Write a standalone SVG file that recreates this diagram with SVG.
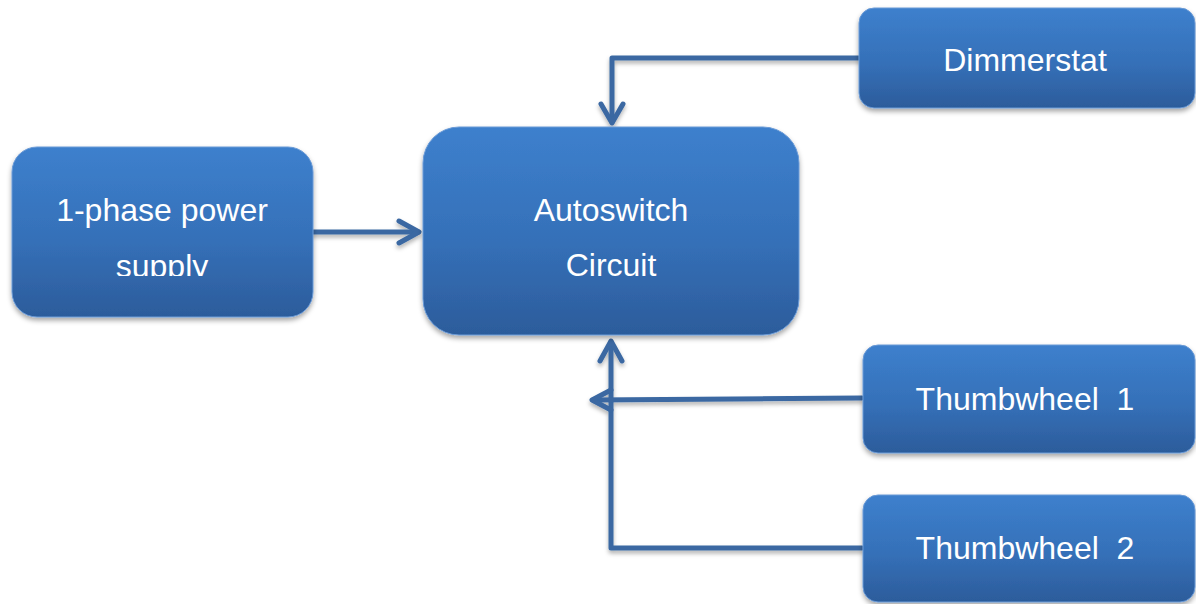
<svg xmlns="http://www.w3.org/2000/svg" width="1196" height="604" viewBox="0 0 1196 604">
  <defs>
    <linearGradient id="boxGrad" x1="0" y1="0" x2="0" y2="1">
      <stop offset="0" stop-color="#3d80cd"/>
      <stop offset="0.55" stop-color="#3570b8"/>
      <stop offset="1" stop-color="#2c5c9b"/>
    </linearGradient>
    <filter id="shadow" x="-10%" y="-10%" width="125%" height="130%">
      <feDropShadow dx="0" dy="3" stdDeviation="2.5" flood-color="#000" flood-opacity="0.35"/>
    </filter>
    <filter id="lineShadow" x="-5%" y="-20%" width="110%" height="140%">
      <feDropShadow dx="0" dy="3" stdDeviation="2" flood-color="#000" flood-opacity="0.3"/>
    </filter>
    <clipPath id="clipPower">
      <rect x="12" y="147" width="301" height="129"/>
    </clipPath>
  </defs>
  <style>
    .box { fill: url(#boxGrad); stroke: #6a9ad6; stroke-width: 1; filter: url(#shadow); }
    .label { fill: #ffffff; font-family: "Liberation Sans", Arial, sans-serif; font-size: 32px; text-anchor: middle; }
    .conn { fill: none; stroke: #3a68a2; stroke-width: 5; stroke-linecap: round; stroke-linejoin: round; }
  </style>

  <g id="connectors" filter="url(#lineShadow)">
    <!-- power supply to autoswitch -->
    <path class="conn" d="M313 232 L418 232"/>
    <path class="conn" d="M399 221 L419 232 L399 243"/>
    <!-- dimmerstat to autoswitch -->
    <path class="conn" d="M859 58 L612 58 L612 122"/>
    <path class="conn" d="M601 104 L612 123 L623 104"/>
    <!-- thumbwheel 2 up to autoswitch -->
    <path class="conn" d="M862 548 L611 548 L611 342"/>
    <path class="conn" d="M600 361 L611 341 L622 361"/>
    <!-- thumbwheel 1 to vertical -->
    <path class="conn" d="M862 398 L593 400"/>
    <path class="conn" d="M611 390 L592 400 L611 410"/>
  </g>

  <g id="node-power">
    <rect class="box" x="12" y="147" width="301" height="170" rx="25" ry="25"/>
    <text class="label" x="162" y="221">1-phase power</text>
    <text class="label" x="162" y="277" clip-path="url(#clipPower)">supply</text>
  </g>

  <g id="node-autoswitch">
    <rect class="box" x="423" y="127" width="376" height="208" rx="36" ry="36"/>
    <text class="label" x="611" y="221">Autoswitch</text>
    <text class="label" x="611" y="276">Circuit</text>
  </g>

  <g id="node-dimmerstat">
    <rect class="box" x="859" y="8" width="336" height="100" rx="15" ry="15"/>
    <text class="label" x="1025" y="71">Dimmerstat</text>
  </g>

  <g id="node-thumbwheel1">
    <rect class="box" x="863" y="345" width="332" height="108" rx="15" ry="15"/>
    <text class="label" x="1025" y="410" xml:space="preserve">Thumbwheel  1</text>
  </g>

  <g id="node-thumbwheel2">
    <rect class="box" x="863" y="495" width="332" height="107" rx="15" ry="15"/>
    <text class="label" x="1025" y="559" xml:space="preserve">Thumbwheel  2</text>
  </g>
</svg>
